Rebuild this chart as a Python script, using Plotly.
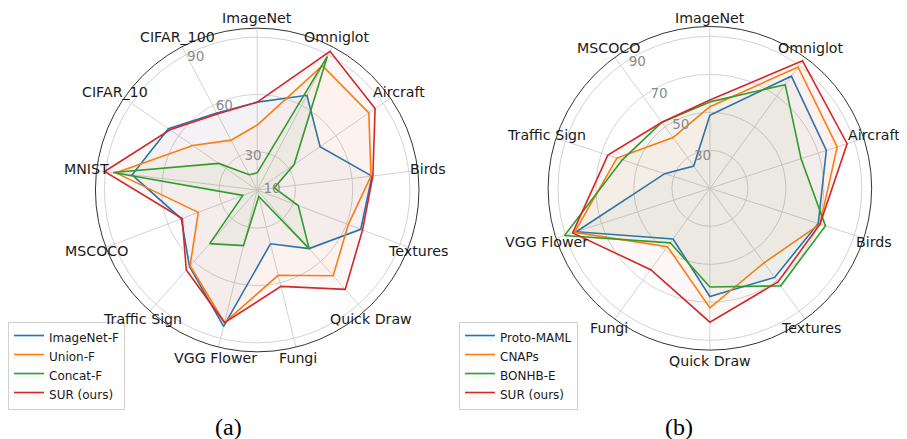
import math
import plotly.graph_objects as go

# ---------------- data (a) ----------------
cats_a = ["ImageNet", "Omniglot", "Aircraft", "Birds", "Textures", "Quick Draw",
          "Fungi", "VGG Flower", "Traffic Sign", "MSCOCO", "MNIST", "CIFAR_10", "CIFAR_100"]
imagenet_f = [56, 66, 50, 70.5, 68, 51, 39, 83.5, 63.5, 52.5, 76, 66.5, 55.5]
union_f    = [44, 83.5, 81, 70, 61, 70, 56, 81.5, 63, 43, 84.5, 51, 39.5]
concat_f   = [19, 89, 33.5, 19, 33, 51, 13.5, 40, 47.5, 18, 86, 34.5, 19]
sur_a      = [56, 92, 85, 71, 69, 79.5, 62, 81.5, 66, 52, 90.5, 65.5, 55]
radial_ticks_a = [10, 30, 60, 90]

# ---------------- data (b) ----------------
cats_b = ["ImageNet", "Omniglot", "Aircraft", "Birds", "Textures", "Quick Draw",
          "Fungi", "VGG Flower", "Traffic Sign", "MSCOCO"]
proto_maml = [48.5, 83, 74.5, 70, 68, 67, 43, 84, 35, 24.5]
cnaps      = [53, 89, 80.5, 71, 58.5, 73, 48, 85, 61.5, 43]
bonhb_e    = [55.5, 77.5, 60.5, 74, 73.5, 62, 45.5, 90.5, 58.5, 53]
sur_b      = [56.5, 93, 86, 71, 71, 80.5, 63, 86, 66.5, 53]
radial_ticks_b = [30, 50, 70, 90]

names_a = ["ImageNet-F", "Union-F", "Concat-F", "SUR (ours)"]
names_b = ["Proto-MAML", "CNAPs", "BONHB-E", "SUR (ours)"]
colors = ["#1f77b4", "#ff7f0e", "#2ca02c", "#d62728"]
fills = ["rgba(31,119,180,0.04)", "rgba(255,127,14,0.04)",
         "rgba(44,160,44,0.04)", "rgba(214,39,40,0.04)"]

OFF = 8                      # page body margin of the html page
W, H = 907 - OFF, 439 - OFF  # figure size
FONT = "DejaVu Sans"

def fx(px):
    return (px - OFF) / W

def fy(py):
    return 1 - (py - OFF) / H

fig = go.Figure()

def add_series(values_list, names, cats, subplot, legend):
    for vals, name, c, fc in zip(values_list, names, colors, fills):
        fig.add_trace(go.Scatterpolar(
            r=list(vals) + [vals[0]],
            theta=list(cats) + [cats[0]],
            mode="lines",
            line=dict(color=c, width=1.6),
            fill="toself",
            fillcolor=fc,
            name=name,
            subplot=subplot,
            legend=legend,
        ))

add_series([imagenet_f, union_f, concat_f, sur_a], names_a, cats_a, "polar", "legend")
add_series([proto_maml, cnaps, bonhb_e, sur_b], names_b, cats_b, "polar2", "legend2")

R = 162.5
CA = (254.3, 190.0)
CB = (709.0, 188.3)

def dom(c):
    cx, cy = c
    return dict(x=[fx(cx - R), fx(cx + R)], y=[fy(cy + R), fy(cy - R)])

def polar_cfg(c, rng, ticks, cats, rangle):
    return dict(
        domain=dom(c),
        bgcolor="white",
        radialaxis=dict(range=rng, tickvals=ticks, ticktext=[str(t) for t in ticks],
                        angle=rangle, tickangle=rangle, side="clockwise",
                        showline=False, ticks="",
                        gridcolor="#d3d3d3", gridwidth=1,
                        tickfont=dict(family=FONT, size=13.5, color="#8a8a8a")),
        angularaxis=dict(categoryarray=cats, categoryorder="array",
                         rotation=90, direction="clockwise",
                         showline=True, linecolor="#333333", linewidth=1,
                         gridcolor="#d3d3d3", gridwidth=1, ticks="",
                         showticklabels=False),
    )

# category labels centred just outside the outer circle (matplotlib style)
annotations = []
LABEL_R = R + 10.5
for cats, c in ((cats_a, CA), (cats_b, CB)):
    n = len(cats)
    for i, name in enumerate(cats):
        th = math.radians(360.0 * i / n)
        px = c[0] + LABEL_R * math.sin(th)
        py = max(c[1] - LABEL_R * math.cos(th), OFF + 9.5)
        annotations.append(dict(text=name, x=fx(px), y=fy(py), xref="paper", yref="paper",
                                xanchor="center", yanchor="middle", showarrow=False,
                                borderpad=0,
                                font=dict(family=FONT, size=14.2, color="#1a1a1a")))

annotations += [
    dict(text="(a)", x=fx(225), y=fy(427), xref="paper", yref="paper",
         xanchor="center", yanchor="middle", showarrow=False,
         font=dict(family="Liberation Serif", size=24, color="black")),
    dict(text="(b)", x=fx(678), y=fy(427), xref="paper", yref="paper",
         xanchor="center", yanchor="middle", showarrow=False,
         font=dict(family="Liberation Serif", size=24, color="black")),
]

legend_common = dict(font=dict(family=FONT, size=12, color="#1a1a1a"),
                     bordercolor="#d0d0d0", borderwidth=1,
                     bgcolor="rgba(255,255,255,0.85)",
                     xanchor="left", yanchor="top", itemwidth=30,
                     tracegroupgap=0)

fig.update_layout(
    width=W, height=H,
    margin=dict(l=0, r=0, t=0, b=0),
    paper_bgcolor="white",
    polar=polar_cfg(CA, [10, 94.7], radial_ticks_a, cats_a, 120),
    polar2=polar_cfg(CB, [10, 95.2], radial_ticks_b, cats_b, 125),
    legend=dict(x=fx(4), y=fy(322), **legend_common),
    legend2=dict(x=fx(457), y=fy(322), **legend_common),
    showlegend=True,
    annotations=annotations,
)

fig.write_html("out.html")
